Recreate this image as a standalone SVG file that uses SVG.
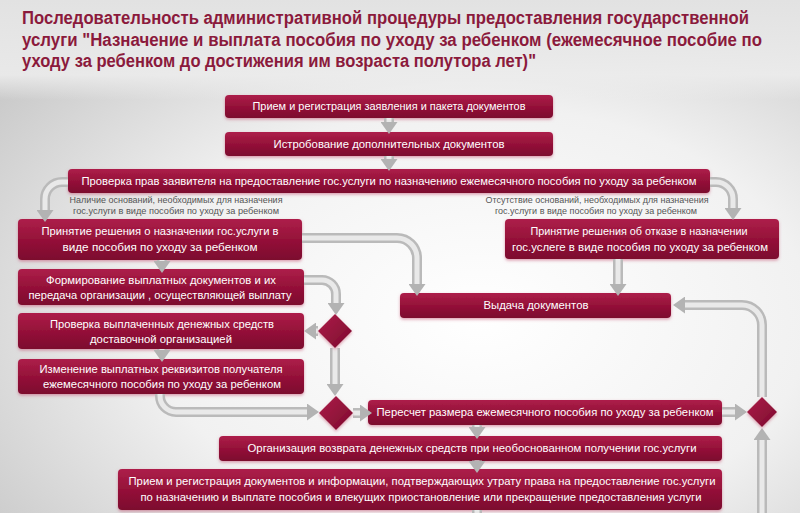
<svg xmlns="http://www.w3.org/2000/svg" width="800" height="513" viewBox="0 0 800 513">
<defs>
<radialGradient id="bg" cx="0.6" cy="0.62" r="0.75">
<stop offset="0" stop-color="#ffffff"/>
<stop offset="0.55" stop-color="#f1f1f1"/>
<stop offset="1" stop-color="#c9c9c9"/>
</radialGradient>
<linearGradient id="top" x1="0" y1="0" x2="0" y2="1">
<stop offset="0" stop-color="#e2e2e2" stop-opacity="1"/>
<stop offset="0.75" stop-color="#ececec" stop-opacity="0.9"/>
<stop offset="1" stop-color="#eeeeee" stop-opacity="0"/>
</linearGradient>
<linearGradient id="rule" x1="0" y1="0" x2="1" y2="0">
<stop offset="0" stop-color="#8b1a3c" stop-opacity="0.2"/>
<stop offset="0.1" stop-color="#8b1a3c" stop-opacity="0.9"/>
<stop offset="0.9" stop-color="#8b1a3c" stop-opacity="0.9"/>
<stop offset="1" stop-color="#8b1a3c" stop-opacity="0.2"/>
</linearGradient>
<linearGradient id="bx" x1="0" y1="0" x2="0" y2="1">
<stop offset="0" stop-color="#ad1f4a"/>
<stop offset="0.5" stop-color="#951139"/>
<stop offset="1" stop-color="#7c0a2e"/>
</linearGradient>
<linearGradient id="dm" x1="0" y1="0" x2="1" y2="1">
<stop offset="0" stop-color="#ad1f4a"/>
<stop offset="1" stop-color="#7c0a2e"/>
</linearGradient>
<filter id="glow" x="-10%" y="-30%" width="120%" height="160%">
<feDropShadow dx="0" dy="1.5" stdDeviation="1.5" flood-color="#c4506f" flood-opacity="0.55"/>
</filter>
<marker id="ah" markerUnits="userSpaceOnUse" markerWidth="12" markerHeight="17" viewBox="0 0 12 17" refX="0" refY="8.5" orient="auto">
<path d="M0,0 L12,8.5 L0,17 Z" fill="#b3b3b3"/>
</marker>
<style>
.box{fill:url(#bx);filter:url(#glow);}
.dia{fill:url(#dm);filter:url(#glow);}
.t{font-family:"Liberation Sans",Arial,sans-serif;font-size:11px;fill:#ffffff;text-anchor:middle;}
.tl{font-family:"Liberation Sans",Arial,sans-serif;font-size:9px;fill:#555555;text-anchor:middle;}
.ttl{font-family:"Liberation Sans",Arial,sans-serif;font-size:17.5px;font-weight:bold;fill:#8b1a3c;}
.cb{fill:none;stroke:#bababa;stroke-width:10;marker-end:url(#ah);}
.cf{fill:none;stroke:#e9e9e9;stroke-width:5;}
</style>
</defs>
<rect width="800" height="513" fill="url(#bg)"/>
<rect width="800" height="100" fill="url(#top)"/>
<g id="title">
<text class="ttl" x="22" y="24" textLength="727" lengthAdjust="spacingAndGlyphs">Последовательность административной процедуры предоставления государственной</text>
<text class="ttl" x="22" y="46" textLength="740" lengthAdjust="spacingAndGlyphs">услуги "Назначение и выплата пособия по уходу за ребенком (ежемесячное пособие по</text>
<text class="ttl" x="22" y="67" textLength="514" lengthAdjust="spacingAndGlyphs">уходу за ребенком до достижения им возраста полутора лет)"</text>
<line x1="8" y1="80" x2="790" y2="80" stroke="url(#rule)" stroke-width="1.5"/>
</g>
<g id="n1"><rect class="box" x="225" y="95" width="328" height="23" rx="4"/><text class="t" x="389" y="110" textLength="273" lengthAdjust="spacingAndGlyphs">Прием и регистрация заявления и пакета документов</text></g>
<g id="n2"><rect class="box" x="225" y="132" width="328" height="24" rx="4"/><text class="t" x="389" y="148" textLength="231" lengthAdjust="spacingAndGlyphs">Истробование дополнительных документов</text></g>
<g id="n3"><rect class="box" x="68" y="169" width="642" height="24" rx="4"/><text class="t" x="389" y="185" textLength="615" lengthAdjust="spacingAndGlyphs" style="font-size:11.5px">Проверка прав заявителя на предоставление гос.услуги по назначению ежемесячного пособия по уходу за ребенком</text></g>
<g id="lbl-yes"><text class="tl" x="176" y="203" textLength="213" lengthAdjust="spacingAndGlyphs">Наличие оснований, необходимых для назначения</text><text class="tl" x="176" y="214" textLength="206" lengthAdjust="spacingAndGlyphs">гос.услуги в виде пособия по уходу за ребенком</text></g>
<g id="lbl-no"><text class="tl" x="597" y="203" textLength="223" lengthAdjust="spacingAndGlyphs">Отсутствие оснований, необходимых для назначения</text><text class="tl" x="596" y="214" textLength="202" lengthAdjust="spacingAndGlyphs">гос.услуги в виде пособия по уходу за ребенком</text></g>
<g id="n5"><rect class="box" x="18" y="219" width="284" height="41" rx="4"/><text class="t" x="160" y="235" textLength="237" lengthAdjust="spacingAndGlyphs" style="font-size:11.5px">Принятие решения о назначении гос.услуги в</text><text class="t" x="160" y="251" textLength="195" lengthAdjust="spacingAndGlyphs" style="font-size:11.5px">виде пособия по уходу за ребенком</text></g>
<g id="n6"><rect class="box" x="505" y="219" width="274" height="40" rx="4"/><text class="t" x="639" y="235" textLength="217" lengthAdjust="spacingAndGlyphs" style="font-size:11.5px">Принятие решения об отказе в назначении</text><text class="t" x="640" y="251" textLength="256" lengthAdjust="spacingAndGlyphs" style="font-size:11.5px">гос.услеге в виде пособия по уходу за ребенком</text></g>
<g id="n7"><rect class="box" x="18" y="269" width="286" height="36" rx="4"/><text class="t" x="161" y="284" textLength="230" lengthAdjust="spacingAndGlyphs" style="font-size:11.5px">Формирование выплатных документов и их</text><text class="t" x="160" y="299" textLength="263" lengthAdjust="spacingAndGlyphs" style="font-size:11.5px">передача организации , осуществляющей выплату</text></g>
<g id="n8"><rect class="box" x="18" y="313" width="286" height="36" rx="4"/><text class="t" x="162" y="328" textLength="224" lengthAdjust="spacingAndGlyphs" style="font-size:11.5px">Проверка выплаченных денежных средств</text><text class="t" x="161" y="343" textLength="142" lengthAdjust="spacingAndGlyphs" style="font-size:11.5px">доставочной организацией</text></g>
<g id="n9"><rect class="box" x="18" y="359" width="286" height="35" rx="4"/><text class="t" x="161" y="373" textLength="243" lengthAdjust="spacingAndGlyphs" style="font-size:11.5px">Изменение выплатных реквизитов получателя</text><text class="t" x="162" y="388" textLength="238" lengthAdjust="spacingAndGlyphs" style="font-size:11.5px">ежемесячного пособия по уходу за ребенком</text></g>
<g id="n10"><rect class="box" x="400" y="293" width="271" height="25" rx="4"/><text class="t" x="536" y="309" textLength="105" lengthAdjust="spacingAndGlyphs">Выдача документов</text></g>
<g id="n11"><rect class="box" x="368" y="400" width="354" height="25" rx="4"/><text class="t" x="545" y="416" textLength="337" lengthAdjust="spacingAndGlyphs">Пересчет размера ежемесячного пособия по уходу за ребенком</text></g>
<g id="n12"><rect class="box" x="219" y="436" width="503" height="25" rx="4"/><text class="t" x="472" y="452" textLength="449" lengthAdjust="spacingAndGlyphs">Организация возврата денежных средств при необоснованном получении гос.услуги</text></g>
<g id="n13"><rect class="box" x="118" y="469" width="604" height="41" rx="4"/><text class="t" x="422" y="485" textLength="587" lengthAdjust="spacingAndGlyphs">Прием и регистрация документов и информации, подтверждающих утрату права на предоставление гос.услуги</text><text class="t" x="421" y="501" textLength="561" lengthAdjust="spacingAndGlyphs">по назначению и выплате пособия и влекущих приостановление или прекращение предоставления услуги</text></g>
<g id="connectors">
<path class="cb" d="M389 118 V122"/><path class="cf" d="M389 118 V122"/>
<path class="cb" d="M389 156 V159"/><path class="cf" d="M389 156 V159"/>
<path class="cb" d="M68 182 H62 A17 17 0 0 0 45 199 V210"/><path class="cf" d="M68 182 H62 A17 17 0 0 0 45 199 V210"/>
<path class="cb" d="M710 182 H716 A17 17 0 0 1 733 199 V208"/><path class="cf" d="M710 182 H716 A17 17 0 0 1 733 199 V208"/>
<path class="cb" d="M302 238 H397 A20 20 0 0 1 417 258 V284"/><path class="cf" d="M302 238 H397 A20 20 0 0 1 417 258 V284"/>
<path class="cb" d="M618 259 V284"/><path class="cf" d="M618 259 V284"/>
<path class="cb" d="M162 260 V261"/><path class="cf" d="M162 260 V261"/>
<path class="cb" d="M304 280 H322 A14 14 0 0 1 336 294 V303"/><path class="cf" d="M304 280 H322 A14 14 0 0 1 336 294 V303"/>
<path class="cb" d="M318 331 H316"/><path class="cf" d="M318 331 H316"/>
<path class="cb" d="M162 349 V350"/><path class="cf" d="M162 349 V350"/>
<path class="cb" d="M335 348 V384"/><path class="cf" d="M335 348 V384"/>
<path class="cb" d="M160 394 V396 A16 16 0 0 0 176 412 H307"/><path class="cf" d="M160 394 V396 A16 16 0 0 0 176 412 H307"/>
<path class="cb" d="M353 413 H360"/><path class="cf" d="M353 413 H360"/>
<path class="cb" d="M722 412 H735"/><path class="cf" d="M722 412 H735"/>
<path class="cb" d="M477 425 V427"/><path class="cf" d="M477 425 V427"/>
<path class="cb" d="M477 460.5 V461"/><path class="cf" d="M477 460.5 V461"/>
<path class="cb" d="M477 510 V540 H762 V440"/><path class="cf" d="M477 510 V540 H762 V440"/>
<path class="cb" d="M762 397 V325 A20 20 0 0 0 742 305 H685"/><path class="cf" d="M762 397 V325 A20 20 0 0 0 742 305 H685"/>
</g>
<g id="d1"><polygon class="dia" points="335,314 352,331 335,348 318,331"/></g>
<g id="d2"><polygon class="dia" points="336,396 353,413 336,430 319,413"/></g>
<g id="d3"><polygon class="dia" points="762,397 777,412 762,427 747,412"/></g>
</svg>
